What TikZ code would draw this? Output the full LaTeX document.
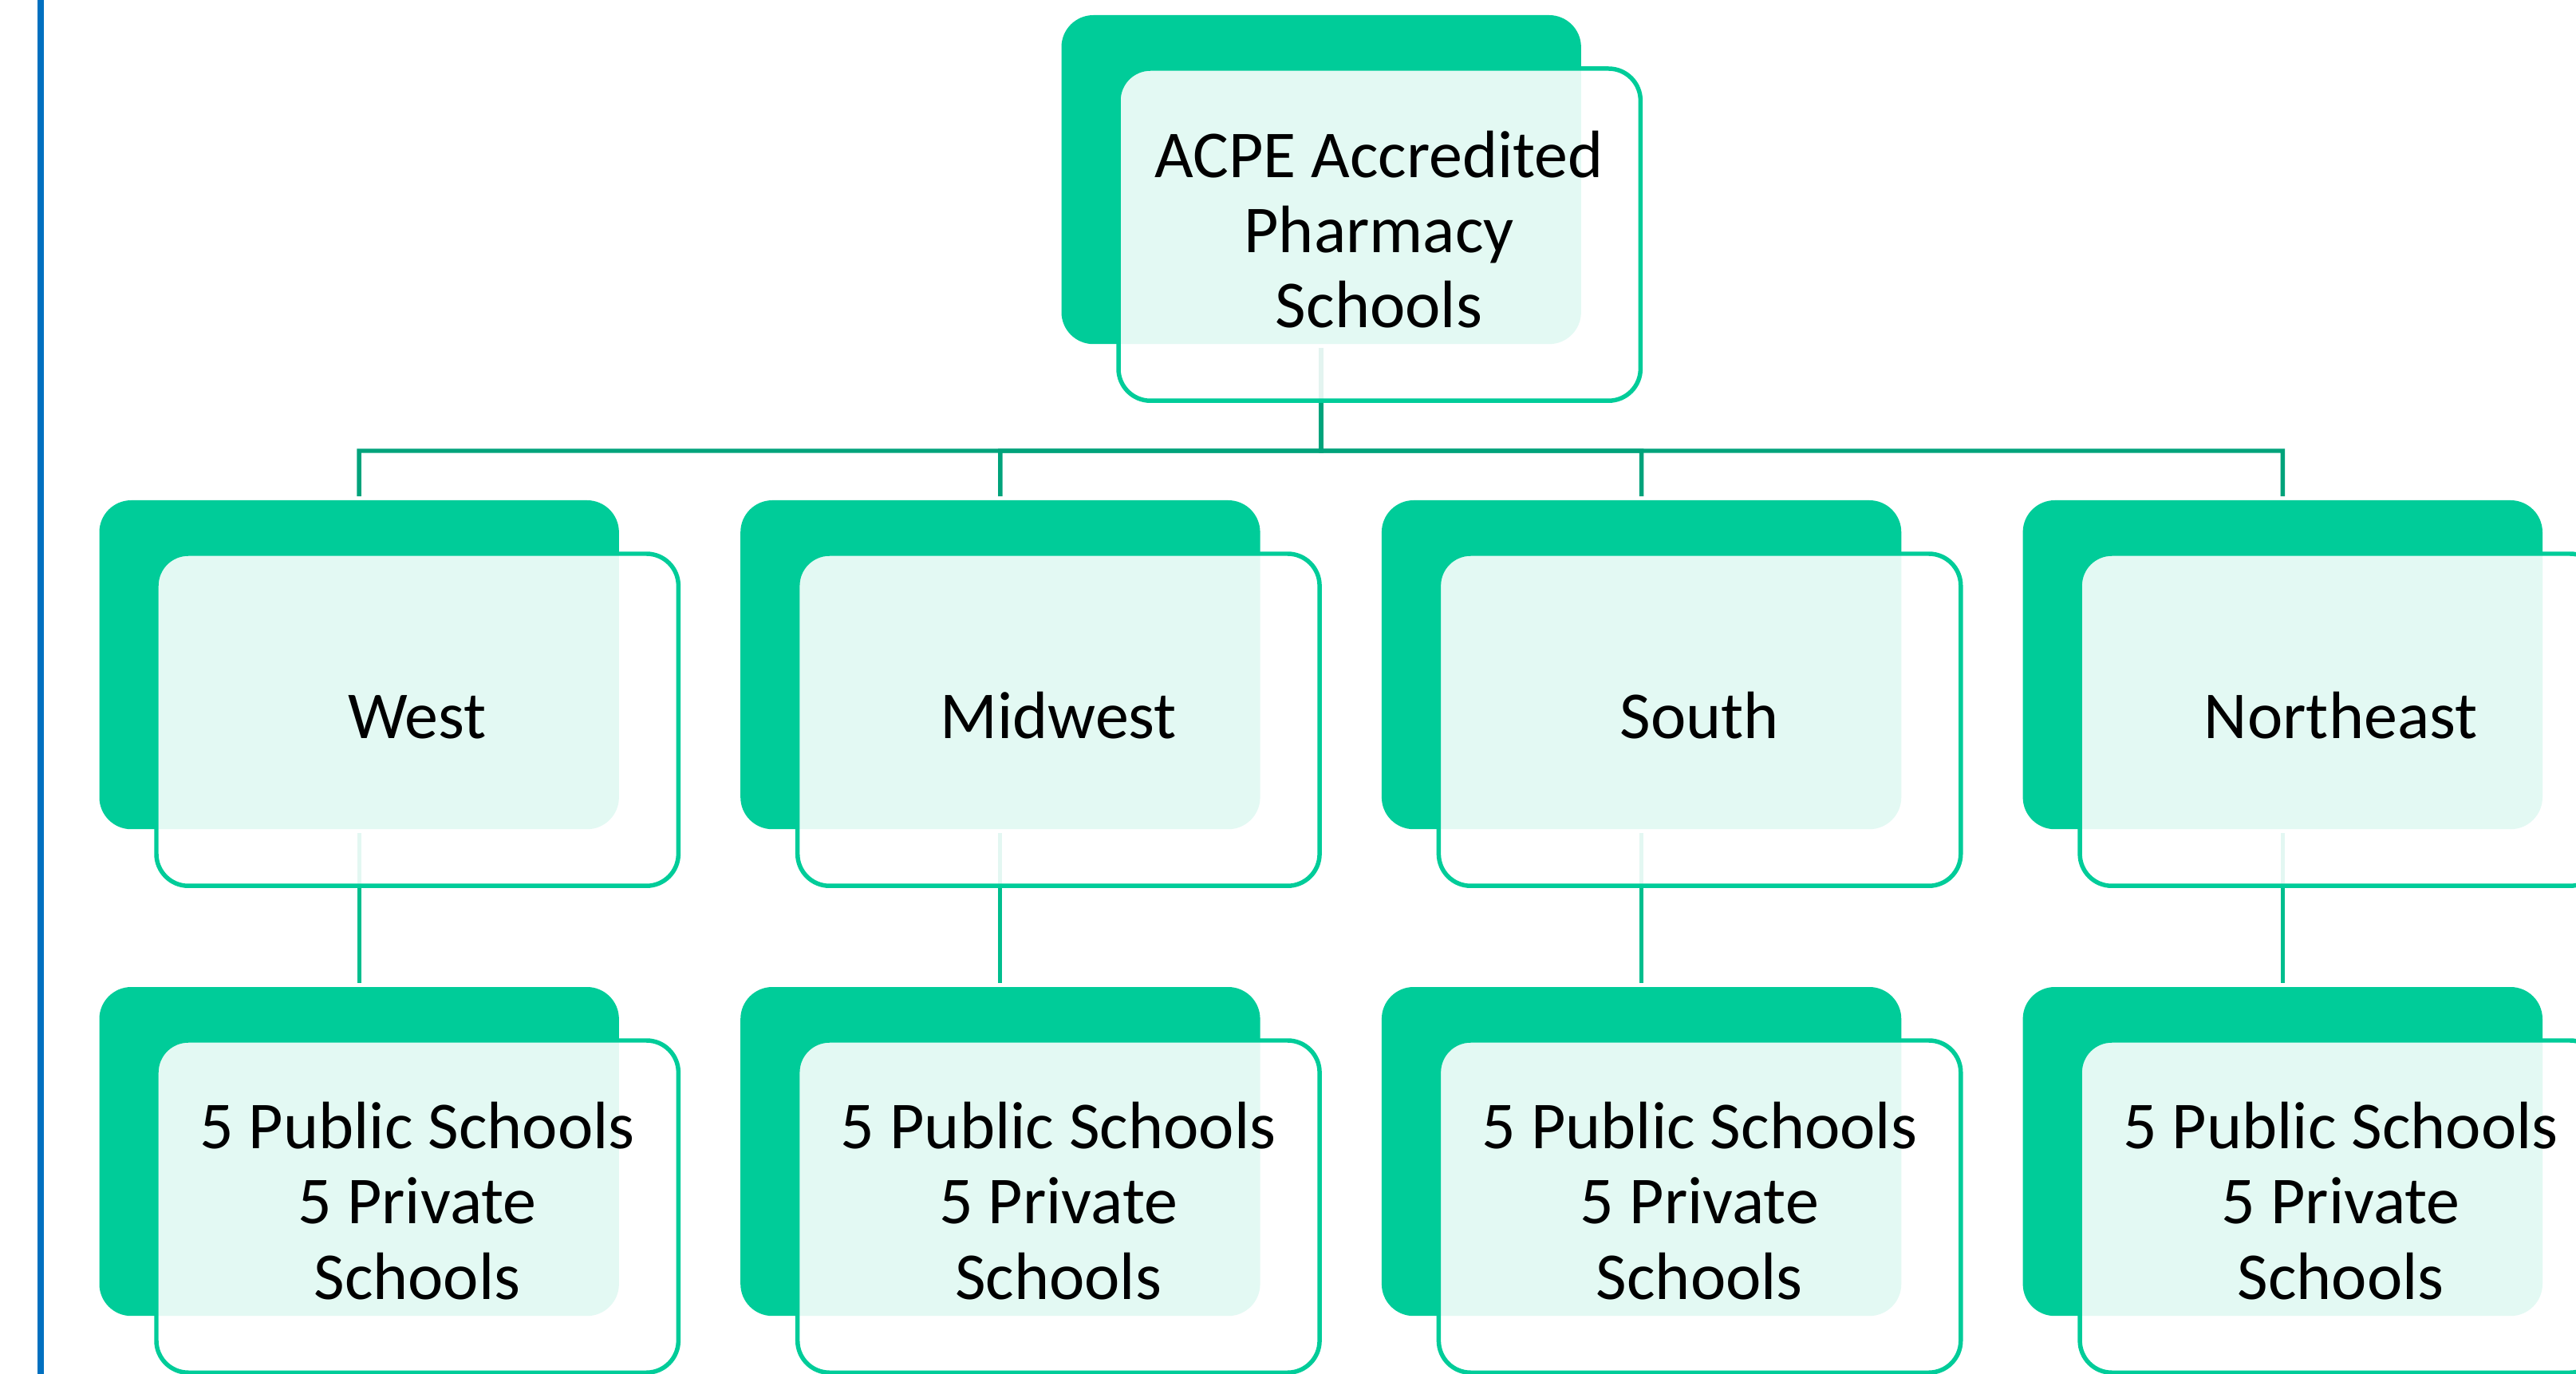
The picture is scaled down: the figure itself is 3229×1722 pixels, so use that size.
\documentclass[tikz,border=0pt]{standalone}
\usepackage{fontspec}
\setmainfont{Carlito}
\usetikzlibrary{backgrounds}
\definecolor{mint}{HTML}{00CC99}
\definecolor{busgreen}{HTML}{00A37B}
\definecolor{linkgreen}{HTML}{00BE8E}
\definecolor{siderule}{HTML}{0070C0}
\begin{document}
\begin{tikzpicture}[x=0.01cm,y=-0.01cm,
  backbox/.style={fill=mint, rounded corners=0.4cm, minimum width=6.51cm,
    minimum height=4.12cm, inner sep=0pt, outer sep=0pt, anchor=north west},
  frontbox/.style={draw=mint, line width=1.56pt, fill=white, fill opacity=0.89,
    rounded corners=0.4cm, minimum width=6.54cm, minimum height=4.16cm,
    inner sep=0pt, outer sep=0pt, anchor=north west},
  boxtext/.style={font=\fontsize{23.9}{26.75}\selectfont, align=center,
    anchor=base, inner sep=0pt, text=black},
  busline/.style={draw=busgreen, line width=1.56pt,
    shorten <=0.05cm, shorten >=0.05cm},
  linkline/.style={draw=linkgreen, line width=1.42pt,
    shorten <=0.05cm, shorten >=0.05cm}]

\useasboundingbox (0,0) rectangle (3229,1722);
\clip (0,0) rectangle (3229,1722);

% vertical rule on the left edge
\draw[siderule, line width=0.08cm] (51,0) -- (51,1722);

% solid back tiles
\node[backbox] (d-top) at (1330.5,19) {};
\node[backbox] (d-west) at (124.5,627) {};
\node[backbox] (d-midwest) at (928.2,627) {};
\node[backbox] (d-south) at (1731.9,627) {};
\node[backbox] (d-northeast) at (2535.6,627) {};
\node[backbox] (d-west2) at (124.5,1237) {};
\node[backbox] (d-midwest2) at (928.2,1237) {};
\node[backbox] (d-south2) at (1731.9,1237) {};
\node[backbox] (d-northeast2) at (2535.6,1237) {};

% translucent front tiles
\node[frontbox] (l-top) at (1402,86) {};
\node[frontbox] (l-west) at (196,694) {};
\node[frontbox] (l-midwest) at (999.7,694) {};
\node[frontbox] (l-south) at (1803.4,694) {};
\node[frontbox] (l-northeast) at (2607.1,694) {};
\node[frontbox] (l-west2) at (196,1304) {};
\node[frontbox] (l-midwest2) at (999.7,1304) {};
\node[frontbox] (l-south2) at (1803.4,1304) {};
\node[frontbox] (l-northeast2) at (2607.1,1304) {};

% connectors, kept beneath the tiles
\begin{scope}[on background layer]
  \coordinate (bus) at (1656,565);
  \draw[busline] (d-top.south) -- (bus) -| (d-west.north);
  \draw[busline] (d-top.south) -- (bus) -| (d-midwest.north);
  \draw[busline] (d-top.south) -- (bus) -| (d-south.north);
  \draw[busline] (d-top.south) -- (bus) -| (d-northeast.north);
  \draw[linkline] (d-west.south) -- (d-west2.north);
  \draw[linkline] (d-midwest.south) -- (d-midwest2.north);
  \draw[linkline] (d-south.south) -- (d-south2.north);
  \draw[linkline] (d-northeast.south) -- (d-northeast2.north);
\end{scope}

% labels (base anchor sits on the last line)
\node[boxtext] (t-top) at (1728.5,411) {ACPE Accredited\\Pharmacy\\Schools};
\node[boxtext] (t-west) at (523,926) {West};
\node[boxtext] (t-midwest) at (1326.7,926) {Midwest};
\node[boxtext] (t-south) at (2130.4,926) {South};
\node[boxtext] (t-northeast) at (2934.1,926) {Northeast};
\node[boxtext] (t-west2) at (523,1628) {5 Public Schools\\5 Private\\Schools};
\node[boxtext] (t-midwest2) at (1326.7,1628) {5 Public Schools\\5 Private\\Schools};
\node[boxtext] (t-south2) at (2130.4,1628) {5 Public Schools\\5 Private\\Schools};
\node[boxtext] (t-northeast2) at (2934.1,1628) {5 Public Schools\\5 Private\\Schools};
\end{tikzpicture}
\end{document}
